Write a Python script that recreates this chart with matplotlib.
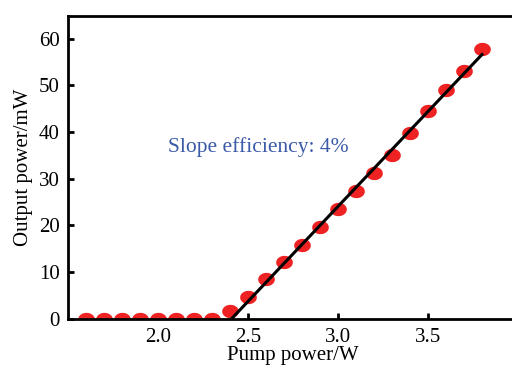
import matplotlib
matplotlib.use("Agg")
import matplotlib.pyplot as plt
from matplotlib.path import Path
import numpy as np

# Datos
pump_power = [1.6, 1.7, 1.8, 1.9, 2.0, 2.1, 2.2, 2.3, 2.4, 2.5, 2.6, 2.7,
              2.8, 2.9, 3.0, 3.1, 3.2, 3.3, 3.4, 3.5, 3.6, 3.7, 3.8]
output_power = [0.0, 0.0, 0.0, 0.0, 0.0, 0.0, 0.0, 0.0, 1.6, 4.7, 8.5, 12.1,
                15.7, 19.7, 23.5, 27.4, 31.2, 35.1, 39.7, 44.6, 49.0, 53.1, 57.8]
x_ticks = [2.0, 2.5, 3.0, 3.5]
y_ticks = [0, 10, 20, 30, 40, 50, 60]

plt.rcParams['font.family'] = ['Liberation Serif', 'DejaVu Serif']
plt.rcParams['font.size'] = 15

fig = plt.figure(figsize=(5.12, 3.66), dpi=100)
ax = fig.add_axes([68 / 512, 47.5 / 366, 450 / 512, 303 / 366])

# Marcador elíptico (los puntos son más anchos que altos)
t = np.linspace(0, 2 * np.pi, 40)
ellipse = Path(np.column_stack([np.cos(t), 0.8 * np.sin(t)]), closed=True)

ax.scatter(pump_power, output_power, marker=ellipse, s=12 ** 2,
           color='#ee2222', linewidths=0, zorder=2, clip_on=True)

# Ajuste lineal por encima del umbral
x = np.array(pump_power)
y = np.array(output_power)
mask = x >= 2.5
k, b = np.polyfit(x[mask], y[mask], 1)
x0 = -b / k
xf = np.array([x0, x.max()])
ax.plot(xf, k * xf + b, color='black', linewidth=2.2, zorder=3)

ax.text(2.555, 36.8, 'Slope efficiency: 4%', color='#3a5aa8', fontsize=15.5,
        ha='center', va='center')

ax.set_xlim(1.5, 4.0)
ax.set_ylim(0, 65)
ax.set_xticks(x_ticks)
ax.set_xticklabels([f'{t:.1f}' for t in x_ticks])
ax.set_yticks(y_ticks)
ax.tick_params(direction='in', length=4, width=2)
ax.tick_params(axis='x', pad=7)
ax.tick_params(axis='y', pad=6)
for s in ax.spines.values():
    s.set_linewidth(2)
    s.set_zorder(4)

ax.set_xlabel('Pump power/W', labelpad=-1)
ax.set_ylabel('Output power/mW', labelpad=4)

fig.savefig('out.png', dpi=100)
